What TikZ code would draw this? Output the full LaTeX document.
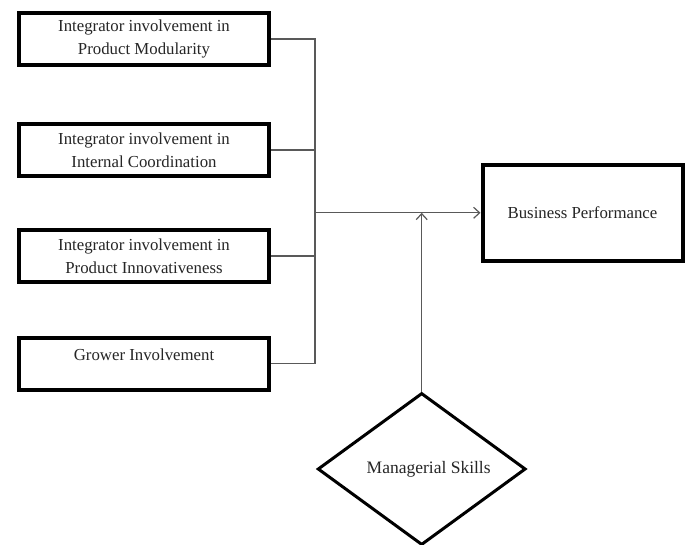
\documentclass[tikz,border=0pt]{standalone}
\usepackage{fontspec}
\setmainfont{Liberation Serif}
\usetikzlibrary{shapes.geometric,arrows.meta}
\begin{document}
\begin{tikzpicture}[x=1pt,y=-1pt,
  fbox/.style={draw=black,line width=4pt,minimum width=250pt,minimum height=52pt,inner sep=0pt,align=center,font=\fontsize{16.8}{23}\selectfont,text=black!85},
  link/.style={draw=black!65,line width=1.3pt},
  arr/.style={link,-{Straight Barb[length=6pt,width=11pt,line width=1.2pt]}}]
\useasboundingbox (0,0) rectangle (688,544);
\fill[white] (0,0) rectangle (688,544);
\node[fbox] (pm) at (144,39) {Integrator involvement in\\Product Modularity};
\node[fbox] (ic) at (144,150) {Integrator involvement in\\Internal Coordination};
\node[fbox] (pi) at (144,256) {Integrator involvement in\\Product Innovativeness};
\node[fbox] (gi) at (144,363.5) {Grower Involvement\\[-6pt]~};
\node[fbox,minimum width=200pt,minimum height=95.5pt] (bp) at (582.5,212.8) {Business Performance};
\node[diamond,draw=black,line width=3pt,aspect=1.37,minimum width=208pt,minimum height=152pt,inner sep=0pt,font=\fontsize{17.5}{21}\selectfont,text=black!85] (ms) at (421.7,469) {\hspace*{14pt}Managerial Skills};
\coordinate (bus) at (315,0);
\draw[link] (pm.east) -- (pm.east -| bus) -- (gi.east -| bus) -- (gi.east);
\draw[link] (ic.east) -- (ic.east -| bus);
\draw[link] (pi.east) -- (pi.east -| bus);
\draw[arr] (bp.west -| bus) -- (bp.west);
\draw[arr] (ms.north) -- (ms.north |- bp.west);
\end{tikzpicture}
\end{document}
